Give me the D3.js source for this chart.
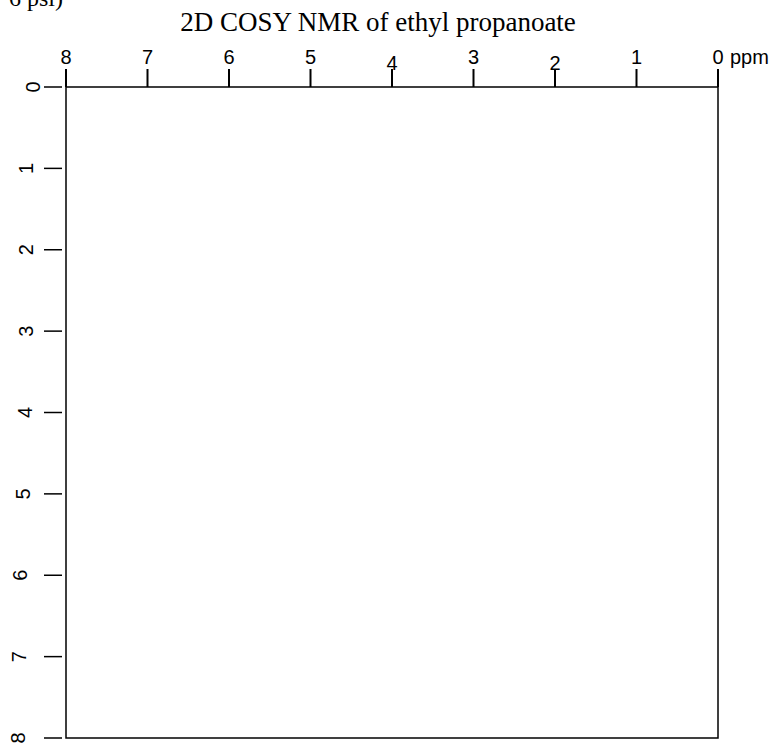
<!DOCTYPE html>
<html lang="en">
<head>
    <title>2D COSY NMR</title>
    <meta charset="utf-8">
    <script src="https://d3js.org/d3.v7.min.js"></script>
    <style>
      body { margin: 0; background: #fff; }
      .serif { font-family: "Liberation Serif", "Times New Roman", serif; fill: #000; }
      .sans { font-family: "Liberation Sans", Arial, sans-serif; fill: #000; }
    </style>
</head>
<body>
<svg id="chart"></svg>
<script>
    // chart text and tick values
    const title = "2D COSY NMR of ethyl propanoate";
    const cornerNote = "6 psi)";
    const xTicks = [8, 7, 6, 5, 4, 3, 2, 1, 0];   // chemical shift, top axis (ppm)
    const yTicks = [0, 1, 2, 3, 4, 5, 6, 7, 8];   // chemical shift, left axis (ppm)
    const xUnit = "ppm";

    // hand-placed look of the labels in the original (pixel nudges)
    const xLabelDy = {4: 6, 2: 6};
    const yLabelX = [40, 33, 33, 33, 32, 30, 27, 26, 25];

    const width = 776, height = 746;
    const svg = d3.select("#chart")
        .attr("width", width)
        .attr("height", height);

    const x = d3.scaleLinear().domain([8, 0]).range([66, 718]);
    const y = d3.scaleLinear().domain([0, 8]).range([87, 738]);

    // title and clipped note from the page above
    svg.append("text")
        .attr("class", "serif")
        .attr("x", 378)
        .attr("y", 31)
        .attr("text-anchor", "middle")
        .style("font-size", "27px")
        .text(title);

    svg.append("text")
        .attr("class", "serif")
        .attr("x", 63)
        .attr("y", 6)
        .attr("text-anchor", "end")
        .style("font-size", "24px")
        .text(cornerNote);

    // plot frame
    svg.append("rect")
        .attr("x", x(8))
        .attr("y", y(0))
        .attr("width", x(0) - x(8))
        .attr("height", y(8) - y(0))
        .attr("fill", "none")
        .attr("stroke", "#000")
        .attr("stroke-width", 1.5);

    // top axis
    svg.selectAll(".xtick")
        .data(xTicks)
        .join("line")
        .attr("class", "xtick")
        .attr("x1", d => x(d))
        .attr("x2", d => x(d))
        .attr("y1", y(0) - 18)
        .attr("y2", y(0))
        .attr("stroke", "#000")
        .attr("stroke-width", 2);

    svg.selectAll(".xlabel")
        .data(xTicks)
        .join("text")
        .attr("class", "xlabel sans")
        .attr("x", d => x(d))
        .attr("y", d => 64 + (xLabelDy[d] || 0))
        .attr("text-anchor", "middle")
        .style("font-size", "20px")
        .text(d => d);

    svg.append("text")
        .attr("class", "sans")
        .attr("x", x(0) + 12)
        .attr("y", 64)
        .style("font-size", "20px")
        .text(xUnit);

    // left axis
    svg.selectAll(".ytick")
        .data(yTicks)
        .join("line")
        .attr("class", "ytick")
        .attr("x1", x(8) - 22)
        .attr("x2", x(8) - 4)
        .attr("y1", d => y(d))
        .attr("y2", d => y(d))
        .attr("stroke", "#000")
        .attr("stroke-width", 1.5);

    svg.selectAll(".ylabel")
        .data(yTicks)
        .join("text")
        .attr("class", "ylabel sans")
        .attr("transform", (d, i) => `translate(${yLabelX[i]},${y(d)}) rotate(-90)`)
        .attr("text-anchor", "middle")
        .style("font-size", "20px")
        .text(d => d);
</script>
</body>
</html>
